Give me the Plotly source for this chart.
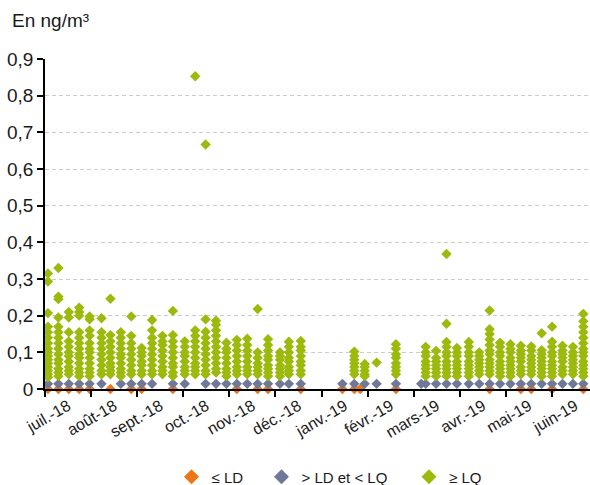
import pandas as pd
import plotly.graph_objects as go

# ---------------- data ----------------
month_labels = ["juil.-18", "août-18", "sept.-18", "oct.-18", "nov.-18", "déc.-18",
                "janv.-19", "févr.-19", "mars-19", "avr.-19", "mai-19", "juin-19"]

y_ticks = [0, 0.1, 0.2, 0.3, 0.4, 0.5, 0.6, 0.7, 0.8, 0.9]
y_tick_text = ["0", "0,1", "0,2", "0,3", "0,4", "0,5", "0,6", "0,7", "0,8", "0,9"]

ld_dates = ["2018-07-03", "2018-07-10", "2018-07-17", "2018-07-24", "2018-07-31",
            "2018-08-14", "2018-08-28", "2018-09-04", "2018-09-25", "2018-11-07",
            "2018-11-21", "2018-11-28", "2018-12-20", "2019-01-17", "2019-01-25",
            "2019-01-29", "2019-02-22", "2019-04-26", "2019-05-17", "2019-05-24",
            "2019-06-07", "2019-06-28"]
ld_values = [0.0] * len(ld_dates)

lq_low_dates = ["2018-07-03", "2018-07-10", "2018-07-17", "2018-07-24", "2018-07-31",
                "2018-08-08", "2018-08-21", "2018-08-28", "2018-09-04", "2018-09-11",
                "2018-09-25", "2018-10-03", "2018-10-17", "2018-10-24", "2018-10-31",
                "2018-11-07", "2018-11-14", "2018-11-21", "2018-11-28", "2018-12-06",
                "2018-12-12", "2018-12-20", "2019-01-17", "2019-01-25", "2019-02-01",
                "2019-02-09", "2019-02-22", "2019-03-11", "2019-03-14", "2019-03-21",
                "2019-03-28", "2019-04-04", "2019-04-12", "2019-04-19", "2019-04-26",
                "2019-05-03", "2019-05-10", "2019-05-17", "2019-05-24", "2019-05-31",
                "2019-06-07", "2019-06-14", "2019-06-21", "2019-06-28"]
lq_low_values = [0.014] * len(lq_low_dates)

lq_dates = ["2018-07-03", "2018-07-10", "2018-07-17", "2018-07-24", "2018-07-31",
            "2018-08-08", "2018-08-14", "2018-08-21", "2018-08-28", "2018-09-04",
            "2018-09-11", "2018-09-18", "2018-09-25", "2018-10-03", "2018-10-10",
            "2018-10-17", "2018-10-24", "2018-10-31", "2018-11-07", "2018-11-14",
            "2018-11-21", "2018-11-28", "2018-12-06", "2018-12-12", "2018-12-20",
            "2019-01-25", "2019-02-01", "2019-02-09", "2019-02-22", "2019-03-14",
            "2019-03-21", "2019-03-28", "2019-04-04", "2019-04-12", "2019-04-19",
            "2019-04-26", "2019-05-03", "2019-05-10", "2019-05-17", "2019-05-24",
            "2019-05-31", "2019-06-07", "2019-06-14", "2019-06-21", "2019-06-28"]
lq_values = [
    [0.315, 0.293, 0.207, 0.17, 0.155, 0.14, 0.125, 0.11, 0.1, 0.09, 0.08, 0.07, 0.06, 0.05, 0.04, 0.032],
    [0.33, 0.252, 0.245, 0.195, 0.17, 0.155, 0.14, 0.125, 0.11, 0.095, 0.08, 0.07, 0.055, 0.045, 0.035],
    [0.21, 0.195, 0.155, 0.13, 0.115, 0.1, 0.09, 0.075, 0.06, 0.05, 0.04],
    [0.222, 0.21, 0.2, 0.155, 0.14, 0.125, 0.11, 0.095, 0.085, 0.07, 0.055, 0.045, 0.035],
    [0.198, 0.19, 0.16, 0.145, 0.125, 0.11, 0.1, 0.085, 0.07, 0.055, 0.045, 0.035],
    [0.193, 0.155, 0.14, 0.125, 0.11, 0.095, 0.08, 0.065, 0.05, 0.04],
    [0.246, 0.147, 0.13, 0.115, 0.1, 0.085, 0.07, 0.06, 0.05, 0.04],
    [0.155, 0.14, 0.125, 0.11, 0.095, 0.085, 0.07, 0.055, 0.045, 0.035],
    [0.198, 0.145, 0.125, 0.11, 0.095, 0.08, 0.065, 0.05, 0.04],
    [0.112, 0.1, 0.09, 0.075, 0.065, 0.05, 0.04],
    [0.188, 0.16, 0.14, 0.125, 0.11, 0.095, 0.08, 0.065, 0.05, 0.04],
    [0.145, 0.13, 0.12, 0.105, 0.09, 0.075, 0.06, 0.05, 0.04],
    [0.213, 0.147, 0.13, 0.115, 0.1, 0.085, 0.07, 0.06, 0.045, 0.035],
    [0.13, 0.115, 0.1, 0.09, 0.075, 0.06, 0.05, 0.04],
    [0.853, 0.16, 0.145, 0.13, 0.115, 0.1, 0.085, 0.07, 0.06, 0.05, 0.04],
    [0.667, 0.19, 0.156, 0.14, 0.125, 0.11, 0.095, 0.08, 0.065, 0.05, 0.04],
    [0.186, 0.175, 0.16, 0.145, 0.13, 0.115, 0.1, 0.085, 0.07, 0.055, 0.045],
    [0.126, 0.11, 0.1, 0.085, 0.07, 0.055, 0.045, 0.035],
    [0.134, 0.12, 0.105, 0.09, 0.075, 0.06, 0.05, 0.04],
    [0.137, 0.12, 0.105, 0.09, 0.075, 0.06, 0.05, 0.04],
    [0.218, 0.1, 0.085, 0.07, 0.06, 0.05, 0.04],
    [0.136, 0.12, 0.105, 0.09, 0.08, 0.065, 0.055, 0.045, 0.035],
    [0.1, 0.09, 0.08, 0.065, 0.055, 0.045, 0.035],
    [0.129, 0.115, 0.1, 0.085, 0.075, 0.06, 0.05, 0.04],
    [0.131, 0.115, 0.105, 0.09, 0.075, 0.065, 0.05, 0.04],
    [0.102, 0.09, 0.08, 0.07, 0.06, 0.05, 0.04],
    [0.068, 0.06, 0.05, 0.04, 0.035],
    [0.072],
    [0.122, 0.11, 0.095, 0.085, 0.07, 0.06, 0.05, 0.04],
    [0.115, 0.1, 0.09, 0.075, 0.065, 0.055, 0.045, 0.035],
    [0.104, 0.085, 0.075, 0.065, 0.055, 0.045, 0.035],
    [0.368, 0.178, 0.128, 0.115, 0.1, 0.09, 0.075, 0.065, 0.055, 0.045, 0.035],
    [0.112, 0.1, 0.09, 0.075, 0.065, 0.055, 0.045, 0.035],
    [0.128, 0.115, 0.1, 0.09, 0.075, 0.065, 0.055, 0.045, 0.035],
    [0.1, 0.09, 0.08, 0.07, 0.06, 0.05, 0.04],
    [0.214, 0.163, 0.15, 0.135, 0.12, 0.105, 0.095, 0.08, 0.07, 0.06, 0.05, 0.04],
    [0.126, 0.115, 0.1, 0.09, 0.075, 0.065, 0.055, 0.045, 0.035],
    [0.122, 0.11, 0.1, 0.085, 0.075, 0.065, 0.055, 0.045, 0.035],
    [0.118, 0.105, 0.095, 0.085, 0.075, 0.06, 0.05, 0.04],
    [0.116, 0.105, 0.09, 0.08, 0.07, 0.06, 0.05, 0.04],
    [0.152, 0.106, 0.095, 0.085, 0.075, 0.065, 0.055, 0.045, 0.035],
    [0.17, 0.129, 0.115, 0.1, 0.09, 0.075, 0.065, 0.055, 0.045, 0.035],
    [0.118, 0.105, 0.095, 0.085, 0.075, 0.06, 0.05, 0.04],
    [0.115, 0.1, 0.09, 0.08, 0.07, 0.06, 0.05, 0.04],
    [0.205, 0.185, 0.17, 0.155, 0.14, 0.125, 0.11, 0.1, 0.09, 0.075, 0.065, 0.055, 0.045, 0.035],
]

series_names = ["≤ LD", "> LD et < LQ", "≥ LQ"]
colors = ["#EE7614", "#6F7898", "#9BBA0C"]

# ---------------- build ----------------
lq_x, lq_y = [], []
for d, vals in zip(lq_dates, lq_values):
    for v in vals:
        lq_x.append(d)
        lq_y.append(v)

start = pd.Timestamp("2018-07-01")
step = pd.Timedelta(days=31)
tick_bounds = [start + i * step for i in range(len(month_labels))]
label_pos = [t + pd.Timedelta(hours=372) for t in tick_bounds]

FONT = "Liberation Sans, Arial, Helvetica, sans-serif"
MS = 8
PLOT_L, PLOT_W, PLOT_T, PLOT_H = 45, 545, 59, 330

fig = go.Figure()
for xs, ys, c in [(ld_dates, ld_values, colors[0]),
                  (lq_low_dates, lq_low_values, colors[1]),
                  (lq_x, lq_y, colors[2])]:
    fig.add_trace(go.Scatter(x=xs, y=ys, mode="markers", showlegend=False,
                             cliponaxis=False, hoverinfo="skip",
                             marker=dict(symbol="diamond", size=MS, color=c)))

legend_ids = ["legend", "legend2", "legend3"]
legend_sym_px = [191.5, 281.5, 429]   # symbol centres (px)
legend_layout = {}
for name, c, lid, sx in zip(series_names, colors, legend_ids, legend_sym_px):
    fig.add_trace(go.Scatter(x=[None], y=[None], mode="markers", name=name, legend=lid,
                             marker=dict(symbol="diamond", size=11.5, color=c)))
    legend_layout[lid] = dict(
        orientation="h", x=(sx - 20 - PLOT_L) / PLOT_W, xanchor="left",
        y=(PLOT_T + PLOT_H - 477) / PLOT_H, yanchor="middle",
        bgcolor="rgba(0,0,0,0)", font=dict(size=15, color="#1a1a1a"))

fig.update_layout(
    width=590, height=485,
    margin=dict(l=PLOT_L, r=590 - PLOT_L - PLOT_W, t=PLOT_T, b=485 - PLOT_T - PLOT_H,
                autoexpand=False),
    paper_bgcolor="white", plot_bgcolor="white",
    font=dict(family=FONT, size=16, color="#1a1a1a"),
    showlegend=True,
    annotations=[dict(text="En ng/m³", xref="paper", yref="paper",
                      x=(10 - PLOT_L) / PLOT_W, y=(PLOT_T + PLOT_H - 21) / PLOT_H,
                      xanchor="left", yanchor="middle",
                      showarrow=False, font=dict(size=19, color="#1a1a1a"))],
    **legend_layout,
)
fig.update_xaxes(
    type="date", automargin=False,
    range=[start, pd.Timestamp("2019-07-02 12:00")],
    tickmode="array", tickvals=label_pos, ticktext=month_labels,
    tickangle=-30, ticks="", showgrid=False, zeroline=False,
    showline=True, linecolor="black", linewidth=1.5,
    tickfont=dict(size=16),
    minor=dict(tickmode="array", tickvals=tick_bounds, ticks="outside",
               ticklen=6, tickcolor="black", tickwidth=1.5, showgrid=False),
)
fig.update_yaxes(
    range=[0, 0.9], automargin=False,
    tickmode="array", tickvals=y_ticks, ticktext=y_tick_text,
    ticks="outside", ticklen=6, tickcolor="black", tickwidth=1.5,
    showline=True, linecolor="black", linewidth=1.5,
    showgrid=True, gridcolor="#CCCCCC", griddash="4px,3px", gridwidth=1,
    zeroline=False, tickfont=dict(size=19),
)

fig.write_html("out.html", config={"displayModeBar": False},
               post_script="document.body.style.margin='0';document.body.style.padding='0';")
